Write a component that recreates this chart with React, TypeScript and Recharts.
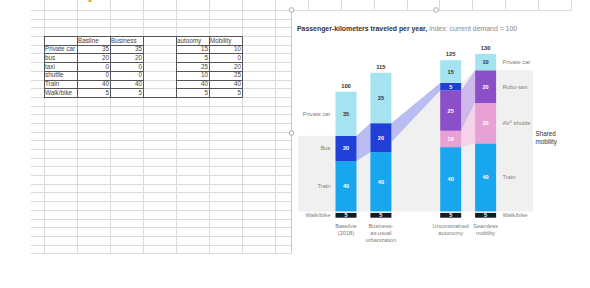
import React from 'react';
import { BarChart, Bar, XAxis, YAxis, Customized } from 'recharts';

/* ---------- data ---------- */
const categories = ['Baseline (2018)', 'Business-as-usual urbanization', '', 'Unconstrained autonomy', 'Seamless mobility'];
const tickLines: string[][] = [['Baseline', '(2018)'], ['Business-', 'as-usual', 'urbanization'], [], ['Unconstrained', 'autonomy'], ['Seamless', 'mobility']];

// segment heights as drawn (index: current demand = 100)
const walkBike = [5, 5, null, 5, 5];
const train = [40, 47, null, 51, 54];
const avShuttle = [0, 0, null, 13, 32];
const roboTaxi = [0, 0, null, 32, 26];
const bus = [20, 23, null, 6, 0];
const privateCar = [35, 40, null, 18, 13];

// numbers printed inside the segments
const walkBikeLabels = ['5', '5', '', '5', '5'];
const trainLabels = ['40', '40', '', '40', '40'];
const avShuttleLabels = ['', '', '', '10', '20'];
const roboTaxiLabels = ['', '', '', '25', '20'];
const busLabels = ['20', '20', '', '5', ''];
const privateCarLabels = ['35', '35', '', '15', '10'];
const totals = ['100', '115', '', '125', '130'];

// flow bands between bars (stacked values at each end)
const flows = [
  { from: 0, fromLo: 45, fromHi: 65, to: 1, toLo: 52, toHi: 75, color: '#b9bdf2' },
  { from: 1, fromLo: 60, fromHi: 75, to: 3, toLo: 101, toHi: 107, color: '#b9bdf2' },
  { from: 3, fromLo: 69, fromHi: 101, to: 4, toLo: 91, toHi: 117, color: '#cfb9ea' },
  { from: 3, fromLo: 56, fromHi: 69, to: 4, toLo: 59, toHi: 91, color: '#f4d2e8' },
];

// spreadsheet on the left
const sheetCols = ['Basline', 'Business', '', 'autoomy', 'Mobility'];
const sheetRows = ['Private car', 'bus', 'taxi', 'shuttle', 'Train', 'Walk/bike'];
const sheetVals = [
  [35, 35, null, 15, 10],
  [20, 20, null, 5, 0],
  [0, 0, null, 25, 20],
  [0, 0, null, 10, 25],
  [40, 40, null, 40, 40],
  [5, 5, null, 5, 5],
];

/* ---------- layout ---------- */
const FONT = '"Liberation Sans", Arial, sans-serif';
const CW = 590;
const CH = 288;
const X_AXIS_H = 30;
const M = { top: 41.3, right: 87, bottom: 288 - 217.7 - X_AXIS_H, left: 328.5 };
const Y_MAX = 140;
const BAR_W = 21;
const PLOT_L = M.left;
const PLOT_R = CW - M.right;
const PLOT_T = M.top;
const PLOT_B = CH - M.bottom - X_AXIS_H;

const yPx = (v: number) => PLOT_B - (v / Y_MAX) * (PLOT_B - PLOT_T);
const step = (PLOT_R - PLOT_L) / categories.length;
const cxOf = (i: number) => PLOT_L + step * (i + 0.5);

const series = [
  { key: 'walk', values: walkBike, labels: walkBikeLabels, fill: '#0f1b2b', text: '#fff', left: 'Walk/bike', right: 'Walk/bike' },
  { key: 'train', values: train, labels: trainLabels, fill: '#18a6ef', text: '#fff', left: 'Train', right: 'Train' },
  { key: 'shuttle', values: avShuttle, labels: avShuttleLabels, fill: '#e8a1d5', text: '#fff', left: '', right: 'AV² shuttle' },
  { key: 'robo', values: roboTaxi, labels: roboTaxiLabels, fill: '#8b50c8', text: '#fff', left: '', right: 'Robo-taxi' },
  { key: 'bus', values: bus, labels: busLabels, fill: '#2140d8', text: '#fff', left: 'Bus', right: '' },
  { key: 'car', values: privateCar, labels: privateCarLabels, fill: '#a5e3f0', text: '#333', left: 'Private car', right: 'Private car' },
];

const data = categories.map((name, i) => {
  const row: any = { name };
  series.forEach((s) => (row[s.key] = s.values[i]));
  return row;
});

const sideText = (t: string, x: number, y: number, anchor: 'start' | 'end') => {
  if (!t) return null;
  if (t.includes('²')) {
    const [a, b] = t.split('²');
    return (
      <text x={x} y={y} dy="0.35em" textAnchor={anchor} fontSize={5.8} fill="#808080" fontFamily={FONT}>
        {a}
        <tspan fontSize={3.6} dy={-2}>2</tspan>
        <tspan dy={2}>{b}</tspan>
      </text>
    );
  }
  return (
    <text x={x} y={y} dy="0.35em" textAnchor={anchor} fontSize={5.8} fill="#808080" fontFamily={FONT}>
      {t}
    </text>
  );
};

const makeShape = (s: (typeof series)[number], isTop: boolean) => (p: any) => {
  const { x, y, width, height, index } = p;
  if (!(height > 0)) return <g />;
  const gap = s.key === 'walk' ? 1.5 : 0;
  const top = y + gap;
  const h = height - gap;
  const cx = x + width / 2;
  const cy = top + h / 2;
  return (
    <g>
      <rect x={x} y={top} width={width} height={h} fill={s.fill} />
      {s.labels[index] && (
        <text x={cx} y={cy} dy="0.35em" textAnchor="middle" fontSize={5.6} fontWeight="bold" fill={s.text} fontFamily={FONT}>
          {s.labels[index]}
        </text>
      )}
      {index === 0 && sideText(s.left, x - 5, cy, 'end')}
      {index === categories.length - 1 && sideText(s.right, x + width + 6.5, cy, 'start')}
      {isTop && (
        <text x={cx} y={y - 4} textAnchor="middle" fontSize={5.8} fontWeight="bold" fill="#333" fontFamily={FONT}>
          {totals[index]}
        </text>
      )}
    </g>
  );
};

const Decor = () => {
  const bars = categories
    .map((_, i) => ({ i, cx: cxOf(i) }))
    .filter(({ i }) => walkBike[i] != null);
  // top of the "shared mobility" part of each bar
  const sharedTop = (i: number) =>
    (walkBike[i] || 0) + (train[i] || 0) + (avShuttle[i] || 0) + (roboTaxi[i] || 0) + (bus[i] || 0);
  const base = yPx(walkBike[0] as number);
  const pts: string[] = [];
  pts.push(`${bars[0].cx - 48},${base}`);
  pts.push(`${bars[0].cx - 48},${yPx(sharedTop(bars[0].i))}`);
  bars.forEach((b) => {
    const yy = yPx(sharedTop(b.i));
    pts.push(`${b.cx - BAR_W / 2},${yy}`);
    pts.push(`${b.cx + BAR_W / 2},${yy}`);
  });
  const last = bars[bars.length - 1];
  pts.push(`${last.cx + 47.5},${yPx(sharedTop(last.i))}`);
  pts.push(`${last.cx + 47.5},${base}`);
  return (
    <g>
      <polygon points={pts.join(' ')} fill="#f0f0f0" />
      {flows.map((f, k) => {
        const x1 = cxOf(f.from) + BAR_W / 2;
        const x2 = cxOf(f.to) - BAR_W / 2;
        const d = `${x1},${yPx(f.fromHi)} ${x2},${yPx(f.toHi)} ${x2},${yPx(f.toLo)} ${x1},${yPx(f.fromLo)}`;
        return <polygon key={k} points={d} fill={f.color} />;
      })}
      <text x={last.cx + 50} y={136} fontSize={6.3} fill="#333" fontFamily={FONT}>
        Shared
      </text>
      <text x={last.cx + 50} y={143.5} fontSize={6.3} fill="#333" fontFamily={FONT}>
        mobility
      </text>
    </g>
  );
};

const Tick = (p: any) => {
  const lines = tickLines[p.index] || [];
  return (
    <g>
      {lines.map((l, k) => (
        <text key={k} x={p.x} y={PLOT_B + 10.5 + k * 6.8} textAnchor="middle" fontSize={5.6} fill="#7a7a7a" fontFamily={FONT}>
          {l}
        </text>
      ))}
    </g>
  );
};

/* ---------- spreadsheet background ---------- */
const ROW_H = 8.69;
const ROW0 = 10;
const colX = [44, 77, 110, 143, 176, 209, 242, 275, 308, 341, 374, 407, 439, 472, 505, 538, 571];

const Sheet = () => {
  const rows: number[] = [];
  for (let k = 0; k <= 28; k++) rows.push(ROW0 + k * ROW_H);
  const tTop = ROW0 + 3 * ROW_H;
  const tBot = ROW0 + 10 * ROW_H;
  const tCols = [44, 77, 110, 143, 176, 209, 242];
  return (
    <svg width={CW} height={CH} style={{ position: 'absolute', left: 0, top: 0 }}>
      {rows.map((y) => (
        <line key={'h' + y} x1={31} x2={572} y1={Math.round(y) + 0.5} y2={Math.round(y) + 0.5} stroke="#dcdcdc" />
      ))}
      {colX.map((x) => (
        <line key={'v' + x} x1={x + 0.5} x2={x + 0.5} y1={0} y2={253.5} stroke="#dcd9e0" />
      ))}
      <rect x={88.5} y={0} width={3} height={2} fill="#f0a030" />
      {/* table borders */}
      {Array.from({ length: 8 }).map((_, k) => {
        const y = Math.round(tTop + k * ROW_H) + 0.5;
        const full = k === 0 || k === 7;
        return (
          <g key={'tb' + k}>
            <line x1={44} x2={full ? 242.5 : 143.5} y1={y} y2={y} stroke="#555" />
            {!full && <line x1={176} x2={242.5} y1={y} y2={y} stroke="#555" />}
          </g>
        );
      })}
      {tCols.map((x) => (
        <line key={'tc' + x} x1={x + 0.5} x2={x + 0.5} y1={Math.round(tTop) + 0.5} y2={Math.round(tBot) + 0.5} stroke="#555" />
      ))}
      {sheetCols.map((c, j) =>
        c ? (
          <text key={'c' + j} x={78 + j * 33} y={tTop + 6.6} fontSize={6.3} fill="#444" fontFamily={FONT}>
            {c}
          </text>
        ) : null,
      )}
      {sheetRows.map((r, i) => (
        <g key={'r' + i}>
          <text x={45} y={tTop + (i + 1) * ROW_H + 6.6} fontSize={6.3} fill="#444" fontFamily={FONT}>
            {r}
          </text>
          {sheetVals[i].map((v, j) =>
            v == null ? null : (
              <text key={j} x={109 + j * 33} y={tTop + (i + 1) * ROW_H + 6.6} textAnchor="end" fontSize={6.3} fill="#444" fontFamily={FONT}>
                {v}
              </text>
            ),
          )}
        </g>
      ))}
    </svg>
  );
};

export default function App() {
  return (
    <div style={{ position: 'absolute', left: 0, top: 0, width: CW, height: CH, background: '#fff', overflow: 'hidden', fontFamily: FONT }}>
      <Sheet />
      <div style={{ position: 'absolute', left: 291, top: 11, width: 290, height: 246, background: '#fff' }} />
      <div style={{ position: 'absolute', left: 0, top: 0 }}>
        <BarChart width={CW} height={CH} data={data} margin={M} barSize={BAR_W}>
          <Customized component={<Decor />} />
          <XAxis dataKey="name" height={X_AXIS_H} axisLine={false} tickLine={false} tickSize={0} interval={0} tick={<Tick />} />
          <YAxis hide domain={[0, Y_MAX]} />
          {series.map((s, k) => (
            <Bar
              key={s.key}
              dataKey={s.key}
              stackId="a"
              fill={s.fill}
              isAnimationActive={false}
              shape={makeShape(s, k === series.length - 1)}
            />
          ))}
        </BarChart>
      </div>
      <svg width={CW} height={CH} style={{ position: 'absolute', left: 0, top: 0, pointerEvents: 'none' }}>
        <line x1={291.5} x2={291.5} y1={10} y2={253.5} stroke="#c8c8c8" />
        <text x={297} y={31} fontSize={6.9} fontFamily={FONT}>
          <tspan fontWeight="bold" fill="#333">Passenger-kilometers traveled per year,</tspan>
          <tspan fill="#8a8a8a"> index: current demand = 100</tspan>
        </text>
        {[
          [291.5, 10],
          [436, 10],
          [291.5, 133],
        ].map(([x, y], k) => (
          <circle key={k} cx={x} cy={y} r={2.3} fill="#fff" stroke="#999" strokeWidth={0.8} />
        ))}
      </svg>
    </div>
  );
}
